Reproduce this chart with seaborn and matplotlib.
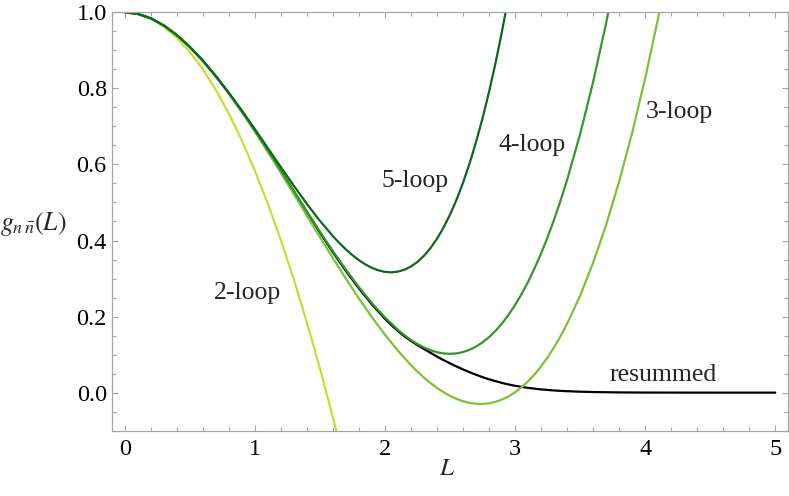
import numpy as np
import pandas as pd
import matplotlib
matplotlib.use("Agg")
import matplotlib.pyplot as plt
import seaborn as sns
from matplotlib.ticker import MultipleLocator, FormatStrFormatter

# values (denser where the curves bend)
L_2loop = [0.0, 0.1, 0.2, 0.3, 0.4, 0.5, 0.6, 0.7, 0.8, 0.9, 1.0, 1.1, 1.2,
           1.3, 1.4, 1.5, 1.6, 1.7]
g_2loop = [1.0, 0.9958, 0.9834, 0.9626, 0.9334, 0.896, 0.8502, 0.7962,
           0.7338, 0.663, 0.584, 0.4966, 0.401, 0.297, 0.1846, 0.064,
           -0.065, -0.2022]

L_3loop = [0.0, 0.1, 0.2, 0.3, 0.4, 0.5, 0.6, 0.7, 0.8, 0.9, 1.0, 1.1, 1.2,
           1.3, 1.4, 1.5, 1.6, 1.7, 1.8, 1.9, 2.0, 2.1, 2.2, 2.25, 2.3, 2.35,
           2.4, 2.45, 2.5, 2.55, 2.6, 2.65, 2.7, 2.75, 2.8, 2.85, 2.9, 2.95,
           3.0, 3.05, 3.1, 3.15, 3.2, 3.25, 3.3, 3.35, 3.4, 3.5, 3.6, 3.7,
           3.8, 3.9, 4.0, 4.1, 4.2]
g_3loop = [1.0, 0.9959, 0.9842, 0.9654, 0.94, 0.9088, 0.8724, 0.8313, 0.7862,
           0.7377, 0.6864, 0.6329, 0.5779, 0.5218, 0.4652, 0.409, 0.3536,
           0.2997, 0.2477, 0.1984, 0.1524, 0.1101, 0.0723, 0.0553, 0.0396,
           0.0252, 0.0124, 0.0011, -0.0085, -0.0165, -0.0226, -0.0269,
           -0.0293, -0.0297, -0.028, -0.0242, -0.0181, -0.0097, 0.001, 0.0142,
           0.0298, 0.0481, 0.0691, 0.0928, 0.1193, 0.1486, 0.181, 0.2548,
           0.3414, 0.4412, 0.555, 0.6832, 0.8264, 0.9853, 1.1604]

L_4loop = [0.0, 0.1, 0.2, 0.3, 0.4, 0.5, 0.6, 0.7, 0.8, 0.9, 1.0, 1.1, 1.2,
           1.3, 1.4, 1.5, 1.6, 1.7, 1.8, 1.9, 2.0, 2.1, 2.15, 2.2, 2.25, 2.3,
           2.35, 2.4, 2.45, 2.5, 2.55, 2.6, 2.65, 2.7, 2.75, 2.8, 2.85, 2.9,
           2.95, 3.0, 3.05, 3.1, 3.15, 3.2, 3.25, 3.3, 3.35, 3.4, 3.5, 3.6,
           3.7, 3.8]
g_4loop = [1.0, 0.9959, 0.9842, 0.9654, 0.9401, 0.909, 0.8727, 0.832, 0.7874,
           0.7396, 0.6893, 0.637, 0.5837, 0.5299, 0.4761, 0.4234, 0.3722,
           0.3233, 0.2774, 0.2353, 0.1976, 0.1652, 0.1511, 0.1386, 0.1278,
           0.1188, 0.1116, 0.1063, 0.1031, 0.1021, 0.1032, 0.1067, 0.1127,
           0.1211, 0.1322, 0.146, 0.1626, 0.1821, 0.2047, 0.2303, 0.2591,
           0.2913, 0.3269, 0.3659, 0.4086, 0.455, 0.5052, 0.5593, 0.6797,
           0.8169, 0.9718, 1.1453]

L_5loop = [0.0, 0.1, 0.2, 0.3, 0.4, 0.5, 0.6, 0.7, 0.8, 0.9, 1.0, 1.1, 1.2,
           1.3, 1.4, 1.5, 1.6, 1.65, 1.7, 1.75, 1.8, 1.85, 1.9, 1.95, 2.0,
           2.05, 2.1, 2.15, 2.2, 2.25, 2.3, 2.35, 2.4, 2.45, 2.5, 2.55, 2.6,
           2.65, 2.7, 2.75, 2.8, 2.85, 2.9, 2.95, 3.0]
g_5loop = [1.0, 0.9959, 0.9842, 0.9654, 0.9401, 0.9091, 0.873, 0.8326, 0.7886,
           0.7418, 0.693, 0.643, 0.593, 0.5438, 0.4962, 0.4518, 0.4115,
           0.3932, 0.3765, 0.3614, 0.3482, 0.337, 0.3281, 0.3215, 0.3175,
           0.3163, 0.3182, 0.3232, 0.3317, 0.3438, 0.3599, 0.3801, 0.4046,
           0.4338, 0.4679, 0.5071, 0.5518, 0.6023, 0.6586, 0.7214, 0.7907,
           0.867, 0.9504, 1.0416, 1.1406]

L_res = [0.0, 0.1, 0.2, 0.3, 0.4, 0.5, 0.6, 0.7, 0.8, 0.9, 1.0, 1.1, 1.2, 1.3,
         1.4, 1.5, 1.6, 1.7, 1.8, 1.9, 2.0, 2.05, 2.1, 2.15, 2.2, 2.25, 2.3,
         2.35, 2.4, 2.45, 2.5, 2.55, 2.6, 2.65, 2.7, 2.75, 2.8, 2.85, 2.9,
         2.95, 3.0, 3.1, 3.2, 3.3, 3.4, 3.5, 3.6, 3.8, 4.0, 4.5, 5.0]
g_res = [1.0, 0.9959, 0.9842, 0.9654, 0.9401, 0.909, 0.8727, 0.832, 0.7874,
         0.7396, 0.6893, 0.637, 0.5837, 0.5295, 0.4752, 0.421, 0.369,
         0.32, 0.274, 0.232, 0.194, 0.1775, 0.162, 0.148, 0.136,
         0.125, 0.1148, 0.1048, 0.0948, 0.0856, 0.077, 0.0688, 0.061, 0.0538,
         0.047, 0.0408, 0.035, 0.0302, 0.0255, 0.0215, 0.018, 0.0125, 0.0085,
         0.0057, 0.0038, 0.0025, 0.0016, 0.0006, 0.0002, 0.0, 0.0]

# drawing order: resummed at the bottom, 5-loop on top
curves = ["resummed", "2-loop", "3-loop", "4-loop", "5-loop"]
colors = ["#000000", "#c4df37", "#7cc236", "#35972b", "#0e6620"]

frames = []
for name, xs, ys in zip(curves,
                        [L_res, L_2loop, L_3loop, L_4loop, L_5loop],
                        [g_res, g_2loop, g_3loop, g_4loop, g_5loop]):
    frames.append(pd.DataFrame({"L": xs, "g": ys, "curve": name}))
df = pd.concat(frames, ignore_index=True)

sns.set_style("ticks")
plt.rcParams["font.family"] = ["Liberation Serif", "DejaVu Serif"]
plt.rcParams["mathtext.fontset"] = "stix"

fig = plt.figure(figsize=(7.89, 4.96), dpi=100)
ax = fig.add_axes([0.1416, 0.1317, 0.8575, 0.8435])

sns.lineplot(data=df, x="L", y="g", hue="curve", hue_order=curves,
             palette=dict(zip(curves, colors)),
             estimator=None, sort=False, linewidth=1.6, legend=False, ax=ax)

ax.set_xlim(-0.1, 5.1)
ax.set_ylim(-0.1, 1.0)

ax.xaxis.set_major_locator(MultipleLocator(1))
ax.xaxis.set_minor_locator(MultipleLocator(0.2))
ax.yaxis.set_major_locator(MultipleLocator(0.2))
ax.yaxis.set_minor_locator(MultipleLocator(0.05))
ax.yaxis.set_major_formatter(FormatStrFormatter("%.1f"))

for s in ax.spines.values():
    s.set_color("#a6a6a6")
    s.set_linewidth(0.9)
ax.tick_params(which="both", direction="in", top=True, right=True,
               color="#a6a6a6", width=0.8, labelsize=17.5, labelcolor="black")
ax.tick_params(which="major", length=4.5)
ax.tick_params(which="minor", length=2.8)
ax.tick_params(axis="x", pad=6)
ax.tick_params(axis="y", pad=3.5)

ax.set_xlabel(r"$L$", fontsize=18)
ax.xaxis.set_label_coords(0.496, -0.092)
ax.xaxis.label.set_va("center")
ax.set_ylabel(r"$g_{n\,\bar{n}}(L)$", fontsize=18.5, rotation=0, ha="center", va="center")
ax.yaxis.set_label_coords(-0.116, 0.494)

# curve labels
labels = {"5-loop": (2.23, 0.556), "4-loop": (3.13, 0.651), "3-loop": (4.26, 0.738),
          "2-loop": (0.94, 0.263), "resummed": (4.14, 0.046)}
for txt, (lx, ly) in labels.items():
    ax.text(lx, ly, txt, fontsize=18.5, ha="center", va="center")

fig.savefig("out.png", dpi=100)
